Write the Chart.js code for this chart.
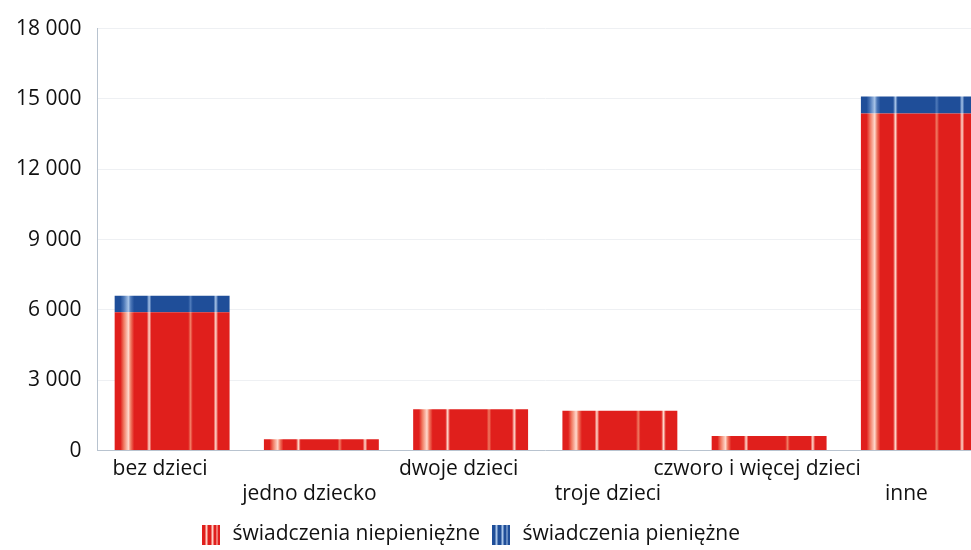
<!DOCTYPE html>
<html><head><meta charset="utf-8">
<script src="https://cdn.jsdelivr.net/npm/chart.js@4.4.1/dist/chart.umd.min.js"></script>
<style>html,body{margin:0;padding:0;background:#fff;overflow:hidden;width:971px;height:550px}
#wrap{width:993px;height:550px}</style></head>
<body><div id="wrap"><canvas id="c" width="993" height="550"></canvas></div>
<script>
const categories = [['bez dzieci'], ['', 'jedno dziecko'], ['dwoje dzieci'], ['', 'troje dzieci'], ['czworo i więcej dzieci'], ['', 'inne']];
const niepieniezne = [5900, 480, 1760, 1700, 620, 14380];
const pieniezne = [700, 0, 0, 0, 0, 720];
const yTicks = [0, 3000, 6000, 9000, 12000, 15000, 18000];
const seriesNames = ['świadczenia niepieniężne', 'świadczenia pieniężne'];

const BAR_PCT = 0.77;
function striped(base, light, light2) {
  return function(ctx) {
    const chart = ctx.chart;
    const xs = chart.scales && chart.scales.x;
    if (ctx.type !== 'data' || !xs || !xs.width) return base;
    const cx = xs.getPixelForValue(ctx.dataIndex);
    const w = (xs.width / categories.length) * BAR_PCT;
    const x0 = cx - w / 2;
    const g = chart.ctx.createLinearGradient(x0, 0, x0 + w, 0);
    const stops = [
      [0, base], [0.05, base], [0.08, light2], [0.12, light], [0.14, light2], [0.17, base],
      [0.28, base], [0.30, light], [0.32, base],
      [0.64, base], [0.66, light2], [0.68, base],
      [0.86, base], [0.88, light], [0.90, base], [1, base]
    ];
    stops.forEach(s => g.addColorStop(s[0], s[1]));
    return g;
  };
}

const legendSwatch = (base, light) => {
  const c = document.createElement('canvas');
  c.width = 18; c.height = 20;
  const x = c.getContext('2d');
  x.fillStyle = base; x.fillRect(0, 0, 18, 20);
  x.fillStyle = light; x.fillRect(3, 0, 2, 20); x.fillRect(9, 0, 2, 20); x.fillRect(14, 0, 1, 20);
  return c;
};

const legendShift = {
  id: 'legendShift',
  afterLayout(chart) {
    if (chart.legend) { chart.legend.left -= 26; chart.legend.right -= 26; }
  }
};

Chart.defaults.font.family = '"Open Sans", Lato, sans-serif';
Chart.defaults.color = '#111';

new Chart(document.getElementById('c'), {
  type: 'bar',
  data: {
    labels: categories,
    datasets: [
      { label: seriesNames[0], data: niepieniezne, backgroundColor: striped('#e01f1c', '#ffd9cc', '#f07a62'), borderWidth: 0 },
      { label: seriesNames[1], data: pieniezne, backgroundColor: striped('#1f4e99', '#a8c4e8', '#4d78b8'), borderWidth: 0 }
    ]
  },
  plugins: [legendShift],
  options: {
    responsive: false,
    animation: false,
    layout: { padding: { top: 16, left: 0, right: 0, bottom: -5 } },
    datasets: { bar: { barPercentage: BAR_PCT, categoryPercentage: 1 } },
    scales: {
      x: {
        stacked: true,
        grid: { display: false, drawTicks: false },
        border: { display: true, color: '#b8c3cf', width: 1 },
        ticks: { font: { size: 21 }, color: '#111', maxRotation: 0, autoSkip: false, padding: 6, labelOffset: -12 }
      },
      y: {
        stacked: true,
        min: 0, max: 18000,
        afterBuildTicks: (s) => { s.ticks = yTicks.map(v => ({ value: v })); },
        grid: { color: '#eef0f3', drawTicks: false },
        border: { display: true, color: '#b8c3cf', width: 1 },
        ticks: { font: { size: 21 }, color: '#111', padding: 16,
          callback: (v) => String(v).replace(/\B(?=(\d{3})+(?!\d))/g, ' ') }
      }
    },
    plugins: {
      tooltip: { enabled: false },
      legend: {
        position: 'bottom',
        labels: {
          font: { size: 21 }, color: '#111', padding: 11,
          generateLabels: (chart) => [
            { text: seriesNames[0], pointStyle: legendSwatch('#e01f1c', '#ffd0c4'), datasetIndex: 0, fontColor: '#111', hidden: false, lineWidth: 0 },
            { text: seriesNames[1], pointStyle: legendSwatch('#1f4e99', '#a8c4e8'), datasetIndex: 1, fontColor: '#111', hidden: false, lineWidth: 0 }
          ],
          usePointStyle: true
        }
      }
    }
  }
});
</script></body></html>
